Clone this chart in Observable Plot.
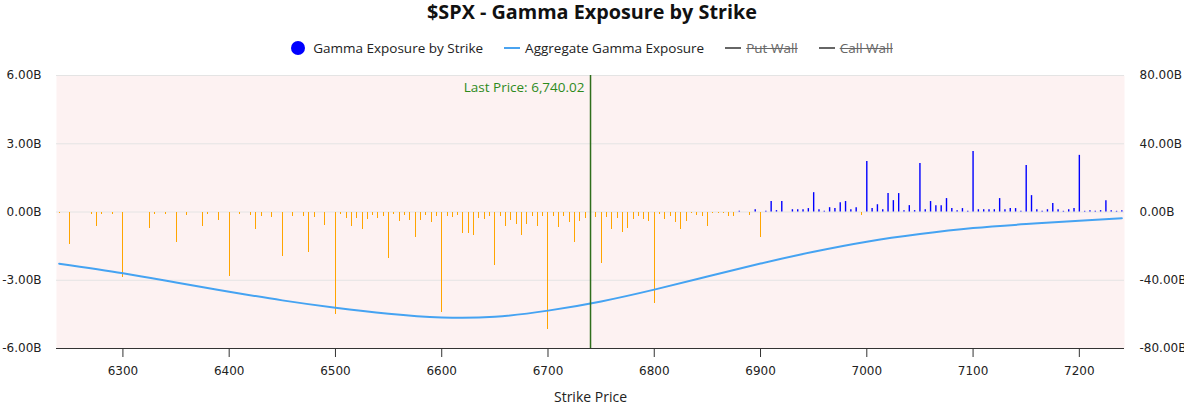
<!DOCTYPE html>
<html><head><meta charset="utf-8">
<script src="https://cdn.jsdelivr.net/npm/d3@7"></script>
<script src="https://cdn.jsdelivr.net/npm/@observablehq/plot@0.6"></script>
<style>
body{margin:0;background:#fff;width:1184px;height:407px;overflow:hidden;position:relative;font-family:"Open Sans",sans-serif;}
#title{position:absolute;left:0;top:0;width:1184px;height:24px;line-height:24px;text-align:center;font-weight:700;font-size:19.8px;color:#111;}
#legend{position:absolute;left:0;top:38px;width:1184px;height:20px;display:flex;justify-content:center;align-items:center;font-size:13.5px;color:#222;}
.item{display:flex;align-items:center;margin:0 10.5px;}
.dot{width:14px;height:14px;border-radius:50%;background:#0000ff;margin-right:8px;}
.ln{width:16px;height:2px;margin-right:5px;}
.off{color:#666;text-decoration:line-through;}
#chart{position:absolute;left:0;top:65px;}
</style></head>
<body>
<div id="title">$SPX - Gamma Exposure by Strike</div>
<div id="legend">
  <div class="item"><div class="dot"></div><span>Gamma Exposure by Strike</span></div>
  <div class="item"><div class="ln" style="background:#4aa3f0"></div><span>Aggregate Gamma Exposure</span></div>
  <div class="item"><div class="ln" style="background:#666"></div><span class="off">Put Wall</span></div>
  <div class="item"><div class="ln" style="background:#666"></div><span class="off">Call Wall</span></div>
</div>
<div id="chart"></div>
<script>
const strikes = [6240,6250,6260,6270,6275,6280,6290,6300,6310,6320,6325,6330,6340,6350,6360,6370,6375,6380,6390,6400,6410,6420,6425,6430,6440,6450,6455,6460,6465,6470,6475,6480,6485,6490,6495,6500,6505,6510,6515,6520,6525,6530,6535,6540,6545,6550,6555,6560,6565,6570,6575,6580,6585,6590,6595,6600,6605,6610,6615,6620,6625,6630,6635,6640,6645,6650,6655,6660,6665,6670,6675,6680,6685,6690,6695,6700,6705,6710,6715,6720,6725,6730,6735,6740,6745,6750,6755,6760,6765,6770,6775,6780,6785,6790,6795,6800,6805,6810,6815,6820,6825,6830,6835,6840,6845,6850,6855,6860,6865,6870,6875,6880,6890,6895,6900,6905,6910,6915,6920,6930,6935,6940,6945,6950,6955,6960,6965,6970,6975,6980,6985,6990,6995,7000,7005,7010,7015,7020,7025,7030,7035,7040,7045,7050,7055,7060,7065,7070,7075,7080,7085,7090,7095,7100,7105,7110,7115,7120,7125,7130,7135,7140,7145,7150,7155,7160,7165,7170,7175,7180,7185,7190,7195,7200,7205,7210,7215,7220,7225,7230,7235,7240];
const gammaB = [-0.05,-1.43,-0.04,-0.10,-0.63,-0.10,-0.10,-2.88,-0.04,-0.04,-0.72,-0.10,-0.10,-1.34,-0.15,-0.04,-0.63,-0.10,-0.37,-2.84,-0.10,-0.15,-0.76,-0.19,-0.24,-1.96,-0.04,-0.19,-0.04,-0.19,-1.78,-0.24,-0.04,-0.59,-0.04,-4.50,-0.10,-0.28,-0.63,-0.28,-0.76,-0.32,-0.15,-0.28,-0.19,-2.04,-0.10,-0.41,-0.15,-0.37,-1.12,-0.37,-0.15,-0.46,-0.19,-4.43,-0.19,-0.24,-0.15,-0.94,-0.94,-1.03,-0.28,-0.32,-0.19,-2.35,-0.19,-0.63,-0.37,-0.54,-1.03,-0.54,-0.19,-0.63,-0.19,-5.16,-0.19,-0.68,-0.19,-0.46,-1.34,-0.41,-0.28,-0.50,-0.24,-2.26,-0.24,-0.76,-0.28,-0.90,-0.72,-0.32,-0.19,-0.32,-0.41,-4.03,-0.10,-0.32,-0.19,-0.46,-0.76,-0.41,-0.05,-0.15,-0.19,-0.63,-0.05,-0.05,-0.05,-0.19,-0.19,0.03,-0.15,0.10,-1.12,0.03,0.46,0.06,0.46,0.10,0.10,0.10,0.15,0.85,0.10,0.03,0.19,0.15,0.41,0.46,0.10,0.19,-0.15,2.22,0.15,0.32,0.10,0.81,0.50,0.81,0.06,0.28,0.06,2.13,0.10,0.46,0.28,0.28,0.59,0.15,0.06,0.15,0.03,2.66,0.10,0.10,0.10,0.10,0.59,0.10,0.15,0.15,0.03,2.04,0.72,0.10,0.03,0.10,0.37,0.10,0.03,0.10,0.15,2.49,0.03,0.06,0.03,0.06,0.50,0.06,0.03,0.06];
const aggStrikes = [6240,6300,6350,6400,6450,6500,6550,6600,6650,6700,6750,6800,6850,6900,6950,7000,7050,7100,7150,7200,7240];
const aggB = [-30.3,-35.9,-41.3,-46.7,-51.8,-56.1,-59.6,-61.8,-61.4,-57.8,-52.4,-45.5,-37.8,-30.2,-23.3,-17.4,-12.9,-9.4,-7.1,-5.1,-3.6];
const lastPrice = 6740.02;
const xTicks = [6300,6400,6500,6600,6700,6800,6900,7000,7100,7200];
const yTicksLeft = [-6,-3,0,3,6];
const rightMax = 80, leftMax = 6;

const bars = strikes.map((s,i)=>({strike:s, g:gammaB[i]}));
const agg = aggStrikes.map((s,i)=>({strike:s, v:aggB[i]}));
const tickFont = "DejaVu Sans";

const chart = Plot.plot({
  width: 1184, height: 342,
  marginLeft: 56, marginRight: 60, marginTop: 10, marginBottom: 59,
  style: {fontFamily: tickFont, fontSize: "12px", color: "#222", background: "transparent"},
  x: {domain: [6237.5, 7242.5]},
  y: {domain: [-leftMax, leftMax]},
  marks: [
    Plot.frame({fill: "#fdf2f2", stroke: null}),
    Plot.gridY(yTicksLeft, {stroke: "#e4e4e4", strokeOpacity: 1}),
    Plot.ruleX(bars.filter(d=>d.g<0), {x: "strike", y1: 0, y2: "g", stroke: "#ffa500", strokeWidth: 1, shapeRendering: "crispEdges"}),
    Plot.ruleX(bars.filter(d=>d.g>=0), {x: "strike", y1: 0, y2: "g", stroke: "#0000ff", strokeWidth: 1.4}),
    Plot.line(agg, {x: "strike", y: d=>d.v*leftMax/rightMax, stroke: "#45a3f2", strokeWidth: 2, curve: "natural"}),
    Plot.ruleX([lastPrice], {x: d=>d, stroke: "#2f6e1c", strokeWidth: 1.5}),
    Plot.text([lastPrice], {x: d=>d, frameAnchor: "top", dy: 7, dx: -6, textAnchor: "end",
      text: d=>"Last Price: " + d3.format(",.2f")(d), fill: "#2e8a1c", fontSize: 13.5, fontFamily: "Open Sans"}),
    Plot.ruleY([-leftMax], {stroke: "#333"}),
    Plot.axisX({ticks: xTicks, tickSize: 9, tickPadding: 9, tickFormat: d=>String(d), label: null, stroke: "#333"}),
    Plot.axisY({anchor: "left", ticks: yTicksLeft, tickSize: 0, tickPadding: 15, tickFormat: d=>d.toFixed(2)+"B", label: null}),
    Plot.axisY({anchor: "right", ticks: yTicksLeft, tickSize: 0, tickPadding: 15, tickFormat: d=>(d*rightMax/leftMax).toFixed(2)+"B", label: null}),
    Plot.text(["Strike Price"], {frameAnchor: "bottom", dy: 53, fontSize: 14, fontFamily: "Open Sans", fill: "#222"})
  ]
});
document.getElementById("chart").appendChild(chart);
</script>
</body></html>
